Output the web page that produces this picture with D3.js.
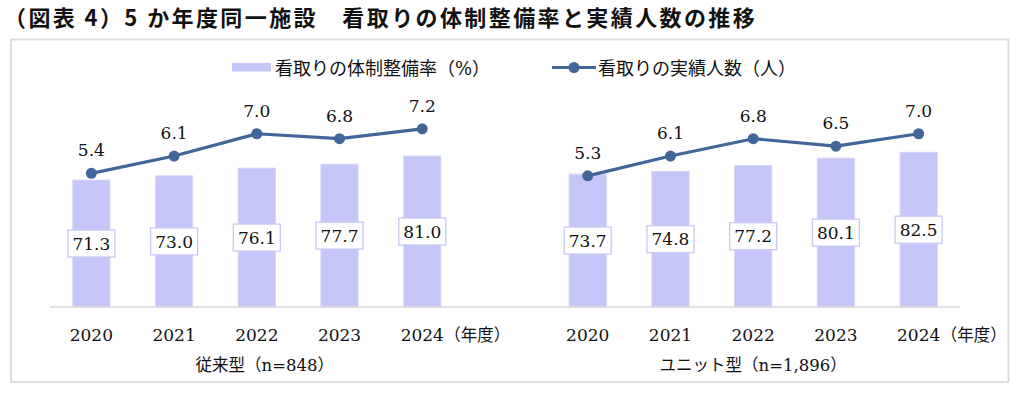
<!DOCTYPE html>
<html><head><meta charset="utf-8">
<script src="https://cdn.jsdelivr.net/npm/d3@7"></script>
<style>
html,body{margin:0;padding:0;background:#fff;}
svg{display:block;}
</style></head>
<body>
<svg id="chart" width="1024" height="396"></svg>
<script>
// ---- data ----
const titleText = "（図表 4）5 か年度同一施設　看取りの体制整備率と実績人数の推移";
const years = ["2020","2021","2022","2023","2024"];
const groups = ["従来型（n=848）","ユニット型（n=1,896）"];
const rateConventional = [71.3,73.0,76.1,77.7,81.0];
const rateUnit = [73.7,74.8,77.2,80.1,82.5];
const countConventional = [5.4,6.1,7.0,6.8,7.2];
const countUnit = [5.3,6.1,6.8,6.5,7.0];
const legendLabels = ["看取りの体制整備率（%）","看取りの実績人数（人）"];
const yearUnit = "（年度）";

const serif = '"DejaVu Serif","Noto Sans CJK JP",serif';
const sans = '"Noto Sans CJK JP",sans-serif';
const barColor = "#c5c5f8";
const lineColor = "#41669a";
const textColor = "#111";

const svg = d3.select("#chart");

// build categories: group A years, gap, group B years
const seriesRates = [rateConventional, rateUnit];
const seriesCounts = [countConventional, countUnit];
const keys = [];
groups.forEach((g,gi)=>{
  if(gi>0) keys.push("gap"+gi);
  years.forEach(y=>keys.push(gi+"-"+y));
});
const rows = [];
groups.forEach((g,gi)=>years.forEach((y,i)=>rows.push({key:gi+"-"+y, g:gi, year:y, rate:seriesRates[gi][i], count:seriesCounts[gi][i]})));

// ---- scales ----
const x = d3.scaleBand().domain(keys).range([50,960]).paddingInner(0.55).paddingOuter(0.275);
const yBar = d3.scaleLinear().domain([20,100]).range([307,109]);
const yLine = d3.scaleLinear().domain([0,8]).range([307,109]);
const cx = k => x(k)+x.bandwidth()/2;

// frame
svg.append("rect").attr("x",11).attr("y",39.5).attr("width",997.5).attr("height",342.5)
  .attr("fill","none").attr("stroke","#dadada").attr("stroke-width",1.8);

// title
svg.append("text").attr("x",4).attr("y",26)
  .attr("font-family",sans).attr("font-weight","bold").attr("font-size",22)
  .attr("letter-spacing","2.4px").attr("fill","#111").text(titleText);

// bars
svg.append("g").selectAll("rect").data(rows).join("rect")
  .attr("x",d=>x(d.key)).attr("width",x.bandwidth())
  .attr("y",d=>yBar(d.rate)).attr("height",d=>yBar(20)-yBar(d.rate))
  .attr("fill",barColor).attr("stroke","#d6d6fb").attr("stroke-width",1);

// baseline
svg.append("line").attr("x1",x.range()[0]).attr("x2",x.range()[1])
  .attr("y1",yBar(20)).attr("y2",yBar(20)).attr("stroke","#d9d9d9").attr("stroke-width",1.5);

// bar labels (boxes)
const bl = svg.append("g").selectAll("g").data(rows).join("g")
  .attr("transform",d=>`translate(${cx(d.key)},${(yBar(d.rate)+yBar(20))/2})`);
bl.append("rect").attr("x",-23.5).attr("y",-13.5).attr("width",47).attr("height",27)
  .attr("fill","#fff").attr("stroke","#c9c9f6").attr("stroke-width",1.3);
bl.append("text").attr("text-anchor","middle").attr("y",6.2)
  .attr("font-family",serif).attr("font-size",17).attr("fill",textColor)
  .text(d=>d.rate.toFixed(1));

// lines
const lineGen = d3.line().x(d=>cx(d.key)).y(d=>yLine(d.count));
groups.forEach((g,gi)=>{
  const data = rows.filter(r=>r.g===gi);
  svg.append("path").datum(data).attr("d",lineGen)
    .attr("fill","none").attr("stroke",lineColor).attr("stroke-width",3.2).attr("stroke-linejoin","round");
});
svg.append("g").selectAll("circle").data(rows).join("circle")
  .attr("cx",d=>cx(d.key)).attr("cy",d=>yLine(d.count)).attr("r",5.5).attr("fill",lineColor);
svg.append("g").selectAll("text").data(rows).join("text")
  .attr("x",d=>cx(d.key)).attr("y",d=>yLine(d.count)-17).attr("text-anchor","middle")
  .attr("font-family",serif).attr("font-size",17).attr("fill",textColor)
  .text(d=>d.count.toFixed(1));

// x axis
const axis = d3.axisBottom(x).tickSize(0).tickPadding(21.5)
  .tickFormat(k=>k.startsWith("gap")?"":k.split("-")[1]);
const ag = svg.append("g").attr("transform",`translate(0,${yBar(20)})`).call(axis);
ag.select(".domain").remove();
ag.selectAll("text").attr("font-family",serif).attr("font-size",17).attr("fill",textColor);

// unit labels after last year
groups.forEach((g,gi)=>{
  const k = gi+"-"+years[years.length-1];
  svg.append("text").attr("x",cx(k)+22).attr("y",340.5)
    .attr("font-family",serif).attr("font-size",16.5).attr("fill",textColor).text(yearUnit);
});

// group titles
const offs = [8, 0];
groups.forEach((g,gi)=>{
  const k0 = gi+"-"+years[0], k1 = gi+"-"+years[years.length-1];
  svg.append("text").attr("x",(cx(k0)+cx(k1))/2+offs[gi]).attr("y",371).attr("text-anchor","middle")
    .attr("font-family",serif).attr("font-size",16.5).attr("fill",textColor).text(g);
});

// legend
const lg = svg.append("g");
lg.append("rect").attr("x",232).attr("y",63).attr("width",39).attr("height",8.5).attr("fill",barColor);
lg.append("text").attr("x",275).attr("y",74.5).attr("font-family",serif).attr("font-size",18)
  .attr("fill",textColor).text(legendLabels[0]);
lg.append("line").attr("x1",552).attr("x2",596).attr("y1",67.5).attr("y2",67.5)
  .attr("stroke",lineColor).attr("stroke-width",3.2);
lg.append("circle").attr("cx",574).attr("cy",67.5).attr("r",5.5).attr("fill",lineColor);
lg.append("text").attr("x",598).attr("y",74.5).attr("font-family",serif).attr("font-size",18)
  .attr("fill",textColor).text(legendLabels[1]);
</script>
</body></html>
